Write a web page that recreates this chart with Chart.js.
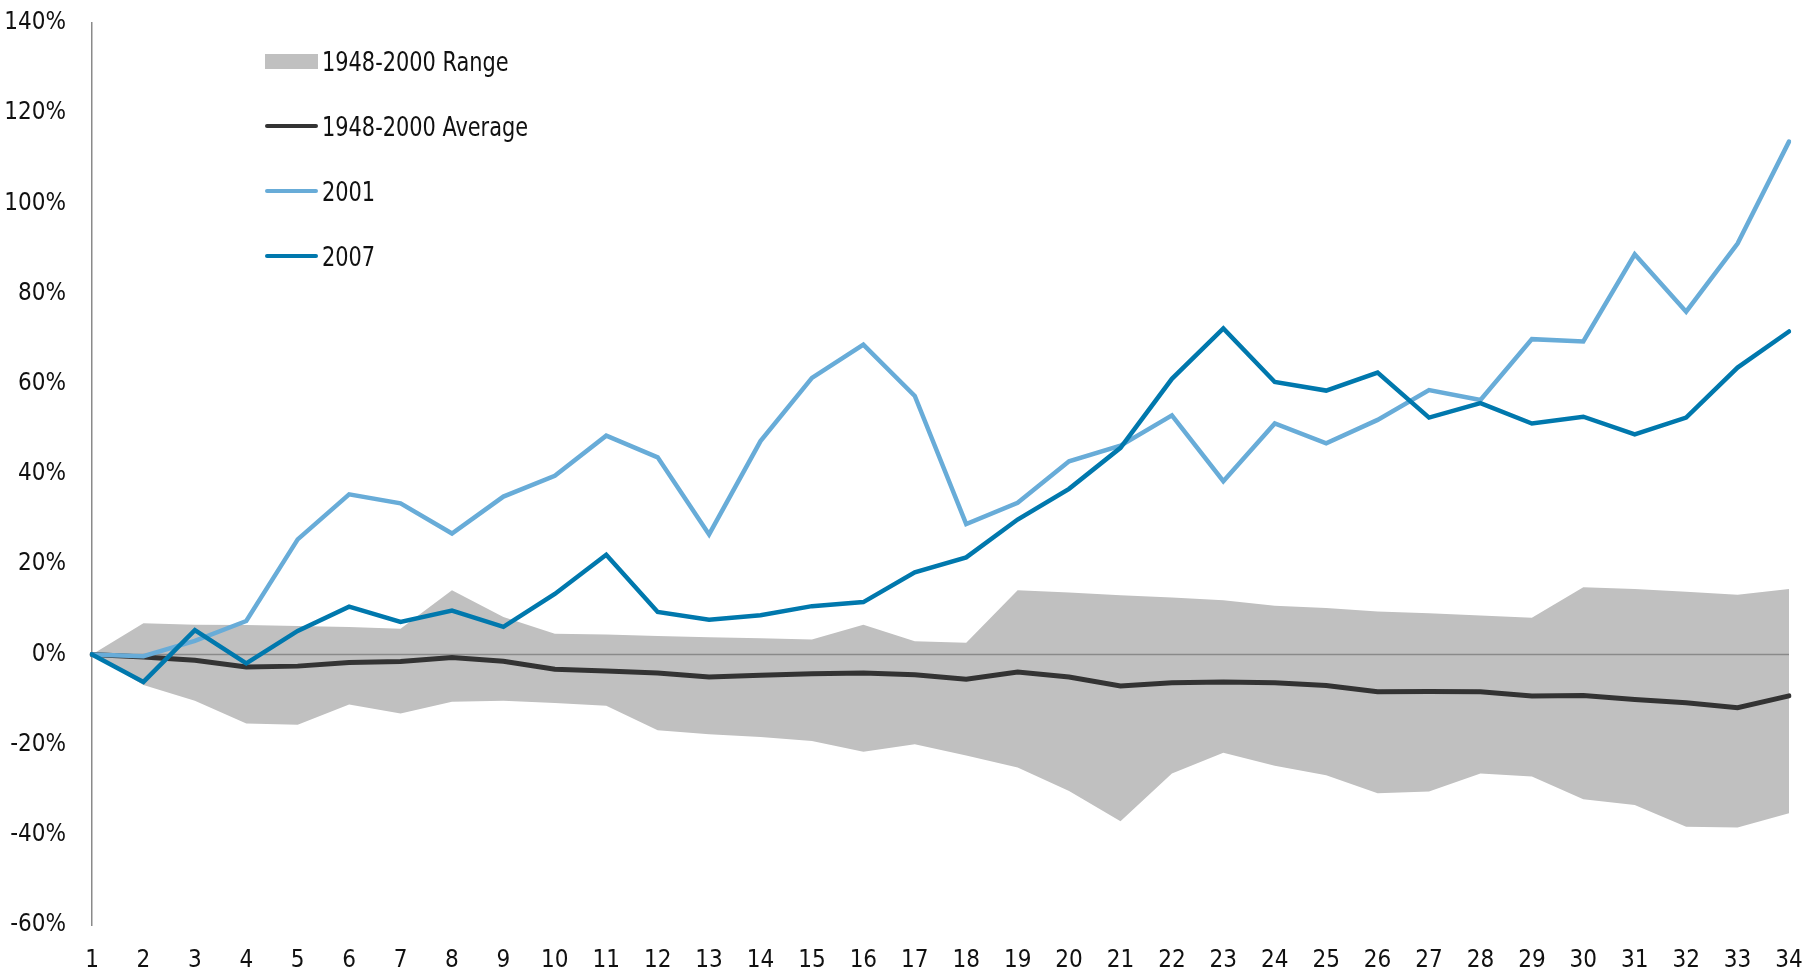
<!DOCTYPE html>
<html>
<head>
<meta charset="utf-8">
<script src="https://cdn.jsdelivr.net/npm/chart.js@4.4.1/dist/chart.umd.min.js"></script>
<style>
  html, body { margin: 0; padding: 0; background: #fff; }
  #wrap { position: relative; width: 1806px; height: 972px; }
  #chart { position: absolute; left: 0; top: 0; }
  .legend { position: absolute; left: 265px; top: 0; font-family: 'DejaVu Sans Condensed', 'Liberation Sans Narrow', 'Roboto', sans-serif; font-size: 27px; color: #111; }
  .item { position: absolute; left: 0; height: 30px; display: flex; align-items: center; white-space: nowrap; }
  .sw { width: 53px; margin-right: 4px; flex: none; }
  .sw.box { height: 15px; background: #c0c0c0; }
  .sw.line { height: 4.5px; border-radius: 2px; }
  .txt { display: inline-block; transform: scaleX(0.86); transform-origin: left center; }
</style>
</head>
<body>
<div id="wrap">
  <canvas id="chart" width="1806" height="972"></canvas>
  <div class="legend" id="legend"></div>
</div>
<script>
const months = ['1','2','3','4','5','6','7','8','9','10','11','12','13','14','15','16','17',
  '18','19','20','21','22','23','24','25','26','27','28','29','30','31','32','33','34'];

const rangeHigh = [0, 6.9, 6.6, 6.5, 6.3, 6.1, 5.7, 14.2, 8.3, 4.6, 4.4, 4.1, 3.8, 3.6, 3.3, 6.6, 2.9,
  2.6, 14.2, 13.7, 13.1, 12.6, 12.0, 10.8, 10.3, 9.5, 9.1, 8.6, 8.1, 14.9, 14.5, 13.9, 13.2, 14.5];
const rangeLow = [0, -6.8, -10.3, -15.3, -15.6, -11.1, -13.1, -10.5, -10.3, -10.8, -11.4, -16.8, -17.7, -18.3, -19.2, -21.6, -19.9,
  -22.4, -25.1, -30.3, -37.0, -26.4, -21.8, -24.7, -26.8, -30.8, -30.4, -26.4, -27.1, -32.1, -33.4, -38.2, -38.4, -35.2];
const average = [0, -0.6, -1.3, -2.8, -2.6, -1.8, -1.6, -0.7, -1.5, -3.3, -3.7, -4.1, -5.0, -4.6, -4.3, -4.1, -4.5,
  -5.5, -3.9, -5.0, -7.0, -6.3, -6.1, -6.3, -6.9, -8.3, -8.2, -8.3, -9.2, -9.1, -10.0, -10.7, -11.8, -9.2];
const y2001 = [0, -0.4, 3.0, 7.4, 25.5, 35.5, 33.5, 26.8, 35.0, 39.6, 48.5, 43.7, 26.6, 47.3, 61.3, 68.7, 57.3,
  28.9, 33.6, 42.8, 46.3, 53.0, 38.4, 51.2, 46.8, 52.0, 58.6, 56.4, 69.9, 69.4, 88.7, 76.0, 91.1, 113.7];
const y2007 = [0, -6.1, 5.4, -2.0, 5.2, 10.6, 7.2, 9.7, 6.1, 13.4, 22.1, 9.4, 7.7, 8.7, 10.7, 11.6, 18.2,
  21.5, 29.9, 36.7, 45.8, 61.1, 72.3, 60.4, 58.5, 62.5, 52.5, 55.7, 51.2, 52.7, 48.8, 52.5, 63.6, 71.6];
const yTicks = [-60, -40, -20, 0, 20, 40, 60, 80, 100, 120, 140];

const GREY = '#c0c0c0';
const AVG = '#333333';
const LIGHT = '#68acd8';
const DARK = '#0078ad';
const FONT = "'DejaVu Sans Condensed', 'Liberation Sans Narrow', 'Roboto', sans-serif";

// legend as html
const legendItems = [
  { label: '1948-2000 Range', box: true, color: GREY, y: 61 },
  { label: '1948-2000 Average', color: AVG, y: 126 },
  { label: '2001', color: LIGHT, y: 191 },
  { label: '2007', color: DARK, y: 256 },
];
document.getElementById('legend').innerHTML = legendItems.map(it => `
  <div class="item" style="top:${it.y - 15}px">
    <span class="sw ${it.box ? 'box' : 'line'}" style="background:${it.color}"></span><span class="txt">${it.label}</span>
  </div>`).join('');

// zero line drawn above the grey range but under the lines
const zeroLine = {
  id: 'zeroLine',
  afterDatasetDraw(chart, args) {
    if (args.index !== 1) return;
    const { ctx, chartArea, scales } = chart;
    const y = scales.y.getPixelForValue(0);
    ctx.save();
    ctx.strokeStyle = '#8a8a8a';
    ctx.lineWidth = 1.5;
    ctx.beginPath();
    ctx.moveTo(chartArea.left, y);
    ctx.lineTo(scales.x.getPixelForValue(months.length - 1), y);
    ctx.stroke();
    ctx.restore();
  }
};

new Chart(document.getElementById('chart'), {
  type: 'line',
  data: {
    labels: months,
    datasets: [
      { label: 'low', data: rangeLow, borderWidth: 0, pointRadius: 0, fill: false, order: 5 },
      { label: '1948-2000 Range', data: rangeHigh, borderWidth: 0, pointRadius: 0, backgroundColor: GREY, fill: '-1', order: 4 },
      { label: '1948-2000 Average', data: average, borderColor: AVG, borderWidth: 5, pointRadius: 0, order: 3 },
      { label: '2001', data: y2001, borderColor: LIGHT, borderWidth: 4.5, pointRadius: 0, order: 2 },
      { label: '2007', data: y2007, borderColor: DARK, borderWidth: 4.5, pointRadius: 0, order: 1 },
    ],
  },
  options: {
    responsive: false,
    animation: false,
    layout: { padding: { top: 23, right: 17, left: 0, bottom: 0 } },
    elements: { line: { tension: 0, borderCapStyle: 'round', borderJoinStyle: 'miter' } },
    plugins: { legend: { display: false }, tooltip: { enabled: false } },
    scales: {
      x: {
        offset: false,
        grid: { display: false, drawTicks: false },
        border: { display: false },
        ticks: { color: '#111', font: { family: FONT, size: 24 }, padding: 21, maxRotation: 0, autoSkip: false },
        afterFit(s) { s.height = 47; s.paddingLeft = 0; s.paddingRight = 0; },
      },
      y: {
        min: -60,
        max: 140,
        afterBuildTicks(s) { s.ticks = yTicks.map(v => ({ value: v })); },
        grid: { display: false, drawTicks: false },
        border: { display: true, color: '#8a8a8a', width: 1.5 },
        ticks: { color: '#111', font: { family: FONT, size: 24 }, padding: 26, callback: v => v + '%' },
        afterFit(s) { s.width = 92; s.paddingTop = 0; s.paddingBottom = 0; },
      },
    },
  },
  plugins: [zeroLine],
});
</script>
</body>
</html>
